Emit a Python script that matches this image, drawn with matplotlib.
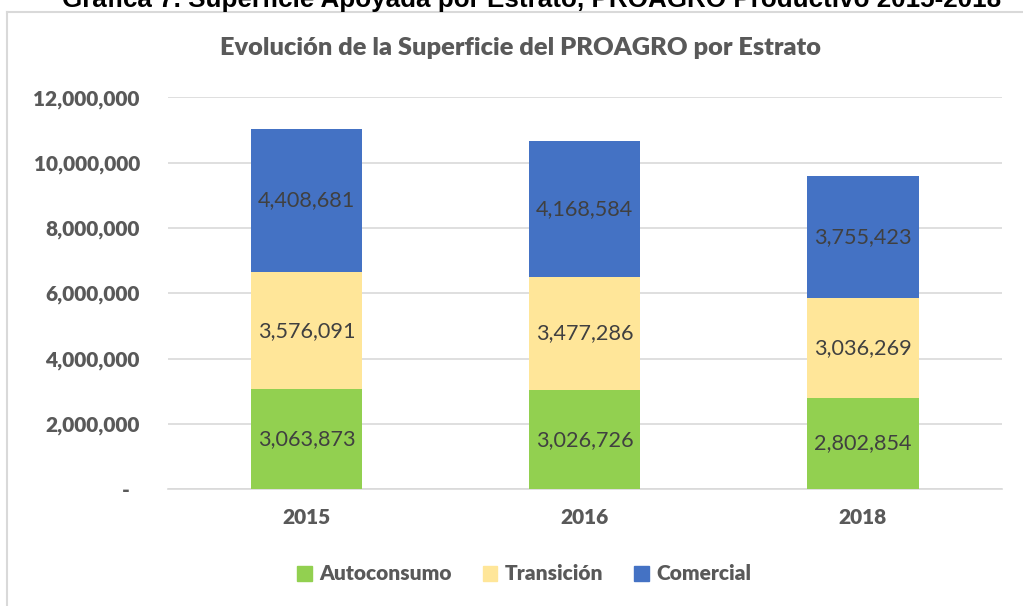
import matplotlib.pyplot as plt
from matplotlib.patches import Patch
from matplotlib.lines import Line2D

years = ["2015", "2016", "2018"]
autoconsumo = [3063873, 3026726, 2802854]
transicion = [3576091, 3477286, 3036269]
comercial = [4408681, 4168584, 3755423]
series_names = ["Autoconsumo", "Transición", "Comercial"]
series_colors = ["#92D050", "#FFE699", "#4472C4"]
yticks = [0, 2000000, 4000000, 6000000, 8000000, 10000000, 12000000]

plt.rcParams["font.family"] = ["Lato", "DejaVu Sans"]
gray = "#595959"
bold = "heavy"

fig = plt.figure(figsize=(10.23, 6.06), dpi=100)
ax = fig.add_axes([167.6 / 1023, 117 / 606, (1002 - 167.6) / 1023, (489 - 97.5) / 606])

x = range(len(years))
bottom = [0, 0, 0]
for vals, name, col in zip([autoconsumo, transicion, comercial], series_names, series_colors):
    bars = ax.bar(x, vals, width=0.4, bottom=bottom, color=col, label=name, zorder=3)
    for b, v in zip(bars, vals):
        ax.text(b.get_x() + b.get_width() / 2, b.get_y() + v / 2, f"{v:,}",
                ha="center", va="center", fontsize=15.6, color="#404040", zorder=4)
    bottom = [a + v for a, v in zip(bottom, vals)]

ax.set_xlim(-0.5, 2.5)
ax.set_ylim(0, 12000000)
ax.set_yticks(yticks)
ax.set_yticklabels(["-  " if t == 0 else f"{t:,}" for t in yticks])
ax.set_xticks(list(x))
ax.set_xticklabels(years)
ax.tick_params(axis="y", length=0, pad=20, labelsize=15, labelcolor=gray)
ax.tick_params(axis="x", length=0, pad=14, labelsize=15, labelcolor=gray)
for lab in ax.get_yticklabels() + ax.get_xticklabels():
    lab.set_fontweight(bold)
ax.grid(axis="y", color="#D9D9D9", linewidth=1.2, zorder=0)
for s in ["top", "right", "left"]:
    ax.spines[s].set_visible(False)
ax.spines["bottom"].set_color("#D9D9D9")
ax.spines["bottom"].set_linewidth(1.2)

# chart box border
fig.add_artist(Line2D([7 / 1023, 7 / 1023], [0, 1 - 12 / 606], color="#D9D9D9", linewidth=1.5))
fig.add_artist(Line2D([7 / 1023, 1], [1 - 12 / 606, 1 - 12 / 606], color="#D9D9D9", linewidth=1.5))

fig.text(520 / 1023, 1 - 48 / 606, "Evolución de la Superficie del PROAGRO por Estrato",
         ha="center", va="center", fontsize=18.3, fontweight=bold, color=gray)

# document caption, clipped at the top
fig.text(532 / 1023, 1 - 7.5 / 606,
         "Gráfica 7. Superficie Apoyada por Estrato, PROAGRO Productivo 2015-2018",
         ha="center", va="baseline", fontsize=18.7, fontweight="bold", color="black",
         family=["Liberation Sans", "DejaVu Sans"])

handles = [Patch(color=c, label=n) for c, n in zip(series_colors, series_names)]
fig.legend(handles=handles, loc="center", bbox_to_anchor=(524 / 1023, 1 - 574 / 606), ncol=3,
           frameon=False, labelcolor=gray, prop={"weight": bold, "size": 15},
           handlelength=0.7, handleheight=0.7, handletextpad=0.35, columnspacing=1.5)

fig.savefig("out.png", dpi=100)
